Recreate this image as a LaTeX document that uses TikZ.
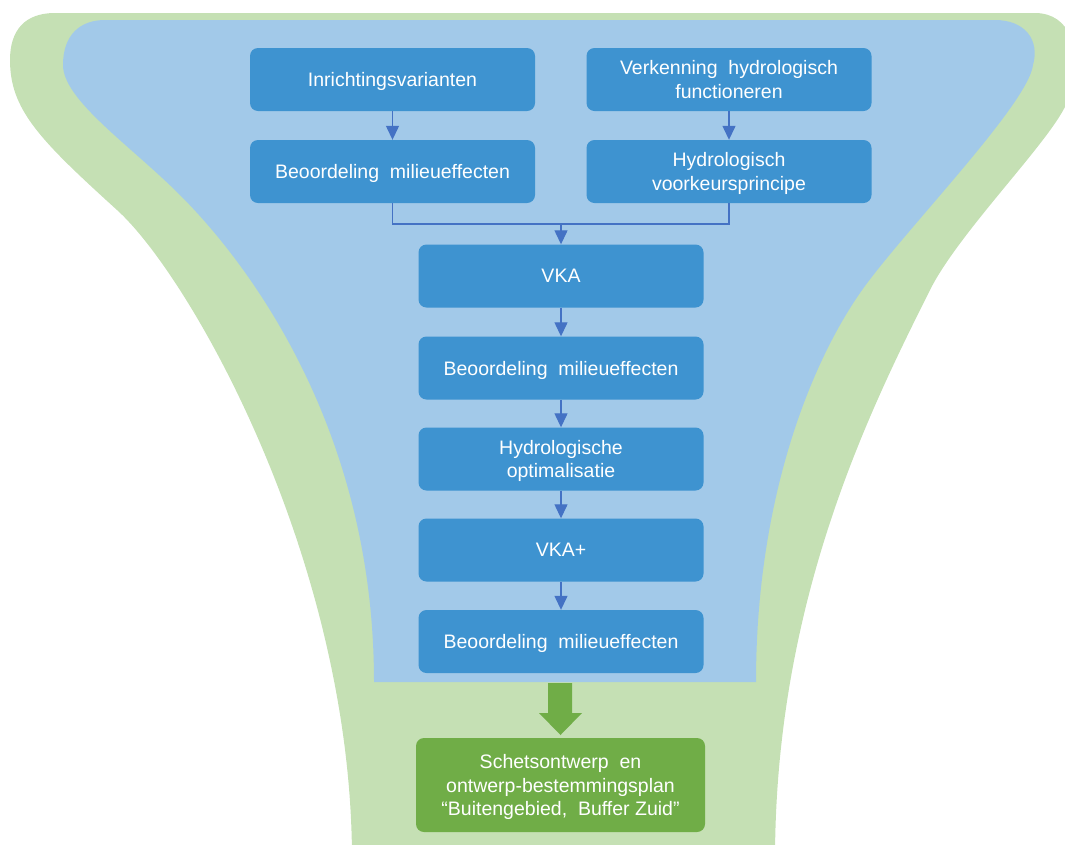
\documentclass[tikz,border=0pt]{standalone}
\usepackage{fontspec}
\setmainfont{Liberation Sans}
\usetikzlibrary{arrows.meta}
\definecolor{outergreen}{HTML}{C5E0B4}
\definecolor{innerblue}{HTML}{A2C9E9}
\definecolor{stepblue}{HTML}{3E93D0}
\definecolor{resultgreen}{HTML}{70AD47}
\definecolor{linkblue}{HTML}{4472C4}
\tikzset{
  stepbox/.style={fill=stepblue, rounded corners=8pt, text=white, align=center,
    font=\fontsize{19.5}{23.5}\selectfont, text depth=0pt,
    minimum width=285pt, minimum height=63pt, inner sep=2pt},
  resultbox/.style={stepbox, fill=resultgreen, minimum width=289pt, minimum height=94pt},
  link/.style={draw=linkblue, line width=1.3pt},
  flow/.style={link, -{Triangle[width=13pt,length=14pt]}},
}
\begin{document}
\begin{tikzpicture}[x=1pt,y=-1pt]
\useasboundingbox (0,0) rectangle (1065,844);
\clip (0,0) rectangle (1065,844);

% outer green funnel
\fill[outergreen] (10,60) .. controls (10,30) and (25,13) .. (55,13) -- (1035,13)
  .. controls (1070,13) and (1085,50) .. (1068,100)
  .. controls (1055,137) and (960,230) .. (930,290)
  .. controls (870,410) and (775,600) .. (775,860)
  -- (352,860)
  .. controls (352,560) and (190,276) .. (117,210)
  .. controls (40,140) and (10,110) .. (10,60) -- cycle;

% inner blue funnel
\fill[innerblue] (63,65) .. controls (63,35) and (80,20) .. (105,20) -- (995,20)
  .. controls (1025,20) and (1040,40) .. (1033,65)
  .. controls (1028,105) and (900,235) .. (860,293)
  .. controls (810,365) and (756,500) .. (756,682)
  -- (374,682)
  .. controls (374,420) and (240,255) .. (180,195)
  .. controls (130,145) and (63,100) .. (63,65) -- cycle;

% process steps
\node[stepbox] (inr) at (392.5,79.5) {Inrichtingsvarianten};
\node[stepbox] (beo1) at (392.5,171.5) {Beoordeling\ \ milieueffecten};
\node[stepbox] (ver) at (729,79.5) {Verkenning\ \ hydrologisch\\functioneren};
\node[stepbox] (hyd) at (729,171.5) {Hydrologisch\\voorkeursprincipe};
\node[stepbox] (vka) at (561,276) {VKA};
\node[stepbox] (beo2) at (561,368) {Beoordeling\ \ milieueffecten};
\node[stepbox] (opt) at (561,459) {Hydrologische\\optimalisatie};
\node[stepbox] (vkap) at (561,550) {VKA+};
\node[stepbox] (beo3) at (561,641.5) {Beoordeling\ \ milieueffecten};
\node[resultbox] (res) at (560.5,785) {Schetsontwerp\ \ en\\ontwerp-bestemmingsplan\\“Buitengebied,\ \ Buffer Zuid”};

% connectors
\draw[flow] (inr) -- (beo1);
\draw[flow] (ver) -- (hyd);
\coordinate (merge) at (561,224);
\draw[link] (beo1.south) |- (merge) -| (hyd.south);
\draw[flow] (merge) -- (vka);
\draw[flow] (vka) -- (beo2);
\draw[flow] (beo2) -- (opt);
\draw[flow] (opt) -- (vkap);
\draw[flow] (vkap) -- (beo3);

% broad arrow towards the result
\fill[resultgreen] (548,683) -- (572,683) -- (572,713) -- (582,713) -- (560.5,735)
  -- (539,713) -- (548,713) -- cycle;
\end{tikzpicture}
\end{document}
